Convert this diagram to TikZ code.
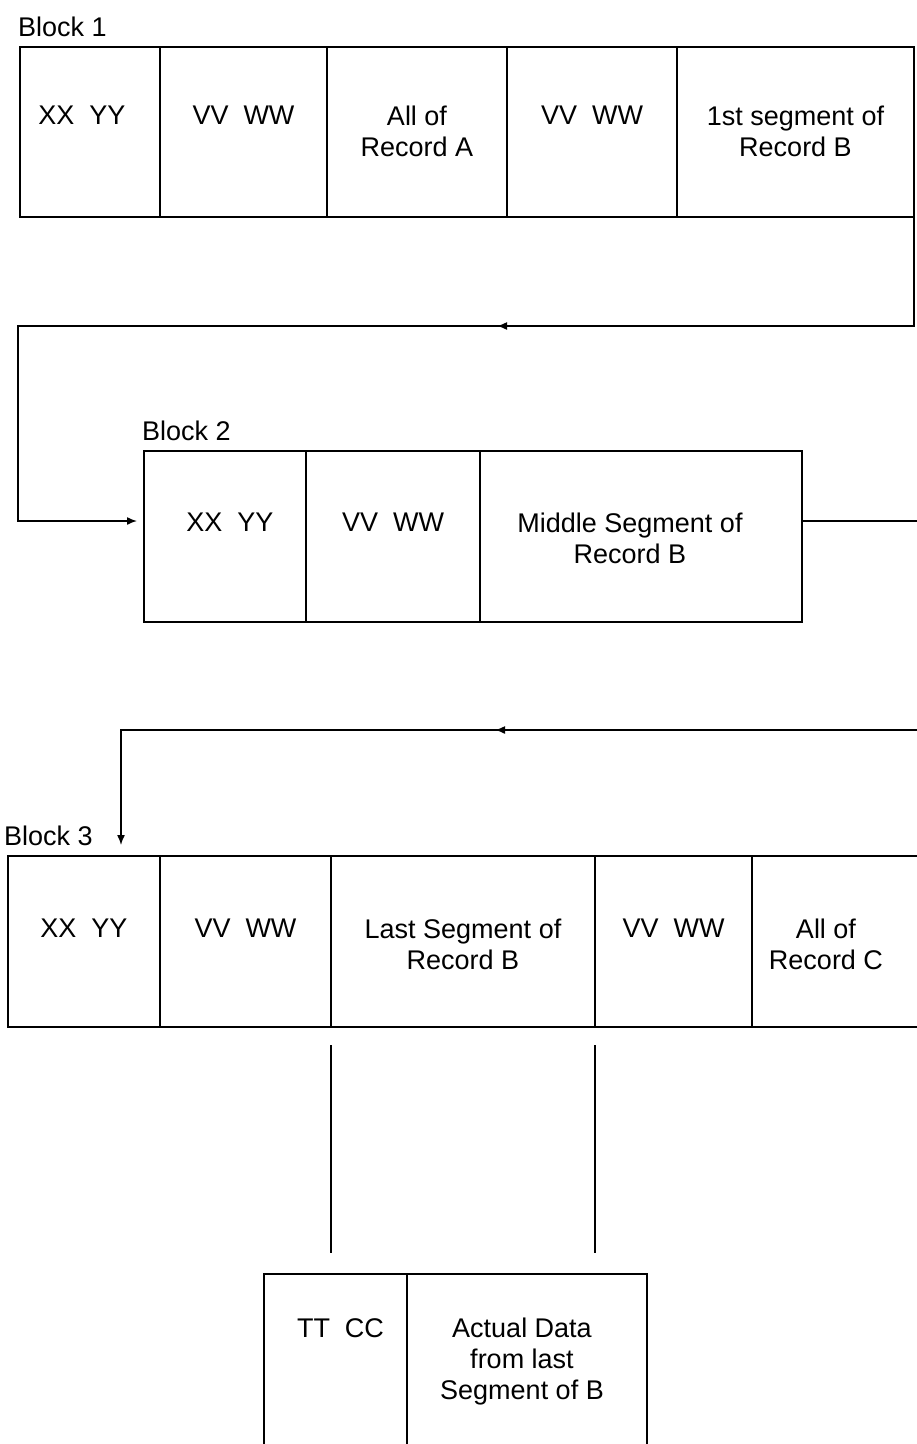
\documentclass[tikz,border=0pt]{standalone}
\usepackage{fontspec}
\setmainfont{Liberation Sans}
\usetikzlibrary{positioning, arrows.meta, decorations.markings}

\begin{document}
\begin{tikzpicture}[x=1pt, y=-1pt,
  cell/.style={draw, line width=1.5pt, minimum width=#1, minimum height=171pt,
    inner sep=0pt, outer sep=0pt},
  celltext/.style={font=\fontsize{27}{31}\selectfont, align=center, inner sep=0pt},
  blocklabel/.style={font=\fontsize{27}{31}\selectfont, inner sep=0pt},
  link/.style={line width=1.5pt, -{Latex[length=10pt,width=8pt]}},
  midarrow/.style={postaction={decorate}, decoration={markings,
    mark=at position #1 with {\arrow{Latex[length=10pt,width=8pt]}}}}]
  \useasboundingbox (0,0) rectangle (917,1444);
  \clip (0,0) rectangle (917,1444);

  \node[cell=140pt, minimum height=170pt, anchor=north west] (b1a) at (20,47) {};
  \node[cell=167pt, minimum height=170pt, right=0pt of b1a] (b1b) {};
  \node[cell=180pt, minimum height=170pt, right=0pt of b1b] (b1c) {};
  \node[cell=170pt, minimum height=170pt, right=0pt of b1c] (b1d) {};
  \node[cell=237pt, minimum height=170pt, right=0pt of b1d] (b1e) {};
  \node[blocklabel, above right=10pt and -2pt of b1a.north west] (lbl1) {Block 1};
  \node[celltext, xshift=-8pt, below=59pt of b1a.north] (t1a) {XX~~YY};
  \node[celltext, below=59pt of b1b.north] (t1b) {VV~~WW};
  \node[celltext, below=59pt of b1c.north] (t1c) {All of\\Record A};
  \node[celltext, below=59pt of b1d.north] (t1d) {VV~~WW};
  \node[celltext, below=59pt of b1e.north] (t1e) {1st segment of\\Record B};

  \node[cell=162pt, anchor=north west] (b2a) at (144,451) {};
  \node[cell=174pt, right=0pt of b2a] (b2b) {};
  \node[cell=322pt, right=0pt of b2b] (b2c) {};
  \node[blocklabel, above right=10pt and -2pt of b2a.north west] (lbl2) {Block 2};
  \node[celltext, xshift=5pt, below=62pt of b2a.north] (t2a) {XX~~YY};
  \node[celltext, below=62pt of b2b.north] (t2b) {VV~~WW};
  \node[celltext, xshift=-11pt, below=62pt of b2c.north] (t2c) {Middle Segment of\\Record B};

  \node[cell=152pt, anchor=north west] (b3a) at (8,856) {};
  \node[cell=171pt, right=0pt of b3a] (b3b) {};
  \node[cell=264pt, right=0pt of b3b] (b3c) {};
  \node[cell=157pt, right=0pt of b3c] (b3d) {};
  \node[cell=178pt, right=0pt of b3d] (b3e) {};
  \node[blocklabel, above right=10pt and -4pt of b3a.north west] (lbl3) {Block 3};
  \node[celltext, below=63pt of b3a.north] (t3a) {XX~~YY};
  \node[celltext, below=63pt of b3b.north] (t3b) {VV~~WW};
  \node[celltext, below=63pt of b3c.north] (t3c) {Last Segment of\\Record B};
  \node[celltext, below=63pt of b3d.north] (t3d) {VV~~WW};
  \node[celltext, xshift=-15pt, below=63pt of b3e.north] (t3e) {All of\\Record C};

  \node[cell=143pt, minimum height=200pt, anchor=north west] (bota) at (264,1274) {};
  \node[cell=240pt, minimum height=200pt, right=0pt of bota] (botb) {};
  \node[celltext, xshift=5pt, below=44pt of bota.north] (tta) {TT~~CC};
  \node[celltext, xshift=-5pt, below=44pt of botb.north] (ttb) {Actual Data\\from last\\Segment of B};

  \draw[link, midarrow=526pt, shorten >=7pt] (b1e.south east) -- ++(0,109) -- ++(-896,0)
    |- ([yshift=-70pt]b2a.north west);
  \draw[link, midarrow=772pt, shorten >=11pt] ([yshift=-70pt]b2c.north east) -- ++(128,0)
    -- ++(0,209) -| ([xshift=113pt]b3a.north west);
  \draw[line width=1.5pt, shorten <=18pt, shorten >=21pt] (b3c.south west) -- (b3c.south west |- bota.north);
  \draw[line width=1.5pt, shorten <=18pt, shorten >=21pt] (b3c.south east) -- (b3c.south east |- bota.north);
\end{tikzpicture}
\end{document}
